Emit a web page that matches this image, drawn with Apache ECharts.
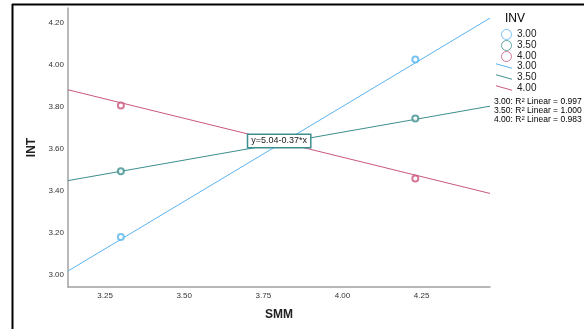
<!DOCTYPE html>
<html>
<head>
<meta charset="utf-8">
<script src="https://cdn.jsdelivr.net/npm/echarts@6/dist/echarts.min.js"></script>
<style>
  html, body { margin: 0; padding: 0; background: #fff; }
  #chart { width: 584px; height: 329px; }
</style>
</head>
<body>
<div id="chart"></div>
<script>
// 分组 INV
const groups = ['3.00', '3.50', '4.00'];
const colors = ['#5ab4ee', '#3d8f8f', '#c9577f'];

// 观测点 (SMM, INT)
const pointX = [3.30, 4.23];
const pointY3 = [3.181, 4.025];
const pointY35 = [3.494, 3.744];
const pointY4 = [3.806, 3.459];

// 拟合线两端
const fitX = [3.133, 4.466];
const fitY3 = [3.019, 4.222];
const fitY35 = [3.449, 3.803];
const fitY4 = [3.881, 3.388];

const rSquared = ['0.997', '1.000', '0.983'];
const xTicks = [3.25, 3.50, 3.75, 4.00, 4.25];
const yTicks = [3.00, 3.20, 3.40, 3.60, 3.80, 4.00, 4.20];

const pointSets = [pointY3, pointY35, pointY4];
const fitSets = [fitY3, fitY35, fitY4];

const chart = echarts.init(document.getElementById('chart'));
const font = 'Liberation Sans, Arial, sans-serif';

const series = [];
groups.forEach((g, i) => {
  series.push({
    name: g, type: 'scatter',
    symbol: 'emptyCircle', symbolSize: 6,
    itemStyle: { color: colors[i], borderWidth: 1 },
    data: pointX.map((x, k) => [x, pointSets[i][k]]),
    z: 3
  });
});
groups.forEach((g, i) => {
  const s = {
    name: 'fit' + g, type: 'line',
    showSymbol: false, symbol: 'none',
    lineStyle: { color: colors[i], width: 1 },
    itemStyle: { color: colors[i] },
    data: fitX.map((x, k) => [x, fitSets[i][k]]),
    silent: true
  };
  // 4.00 组的方程标签
  if (i === 2) {
    s.markPoint = {
      symbol: 'circle', symbolSize: 1,
      itemStyle: { color: 'rgba(0,0,0,0)' },
      label: {
        show: true, position: 'inside', formatter: 'y=5.04-0.37*x',
        color: '#222', fontSize: 9, fontFamily: font,
        backgroundColor: '#fff', borderColor: '#3d8f8f', borderWidth: 1.5,
        padding: [2, 3, 1, 3]
      },
      data: [{ coord: [3.80, 3.638] }],
      z: 5
    };
  }
  series.push(s);
});

const option = {
  backgroundColor: '#fff',
  animation: false,
  grid: { left: 68, right: 94, top: 8, bottom: 42 },
  title: [
    { text: 'INV', left: 500, top: 8, textStyle: { fontSize: 12, fontWeight: 'normal', color: '#000', fontFamily: font } },
    {
      text: groups.map((g, i) => g + ': R{sup|2} Linear = ' + rSquared[i]).join('\n'),
      left: 489, top: 92,
      textStyle: {
        fontSize: 8.5, fontWeight: 'normal', color: '#000', fontFamily: font, lineHeight: 9,
        rich: { sup: { fontSize: 6, verticalAlign: 'top', lineHeight: 9, color: '#000', fontFamily: font } }
      }
    }
  ],
  legend: [
    {
      data: groups.map((g, i) => ({
        name: g, icon: 'circle',
        itemStyle: { color: '#fff', borderColor: colors[i], borderWidth: 1 }
      })),
      orient: 'vertical', left: 496, top: 24,
      itemWidth: 11, itemHeight: 10, itemGap: 0,
      textStyle: { fontSize: 10, lineHeight: 10, color: '#222', fontFamily: font },
      selectedMode: false
    },
    {
      data: groups.map(g => 'fit' + g), orient: 'vertical', left: 491, top: 56,
      icon: 'path://M0,0 L18,5 L18,6 L0,1 Z', itemWidth: 16, itemHeight: 6, itemGap: 1,
      formatter: n => n.replace('fit', ''),
      textStyle: { fontSize: 10, lineHeight: 10, color: '#222', fontFamily: font },
      selectedMode: false
    }
  ],
  xAxis: {
    type: 'value', min: 3.133, max: 4.466,
    name: 'SMM', nameLocation: 'middle', nameGap: 22,
    nameTextStyle: { fontSize: 12, fontWeight: 'bold', color: '#222', fontFamily: font },
    axisLine: { show: true, lineStyle: { color: '#a0a0a0', width: 1.5 } },
    axisTick: { show: false },
    splitLine: { show: false },
    axisLabel: { customValues: xTicks, formatter: v => v.toFixed(2), fontSize: 8, color: '#333', margin: 5, fontFamily: font }
  },
  yAxis: {
    type: 'value', min: 2.943, max: 4.27,
    name: 'INT', nameLocation: 'middle', nameGap: 30, nameRotate: 90,
    nameTextStyle: { fontSize: 12, fontWeight: 'bold', color: '#222', fontFamily: font },
    axisLine: { show: true, lineStyle: { color: '#a0a0a0', width: 1.5 } },
    axisTick: { show: false },
    splitLine: { show: false },
    axisLabel: { customValues: yTicks, formatter: v => v.toFixed(2), fontSize: 8, color: '#333', margin: 4, fontFamily: font }
  },
  graphic: [
    { type: 'line', shape: { x1: 12.5, y1: 4, x2: 12.5, y2: 329 }, style: { stroke: '#000', lineWidth: 2 } },
    { type: 'line', shape: { x1: 12, y1: 4.5, x2: 584, y2: 4.5 }, style: { stroke: '#000', lineWidth: 2 } }
  ],
  series: series
};

chart.setOption(option);
</script>
</body>
</html>
